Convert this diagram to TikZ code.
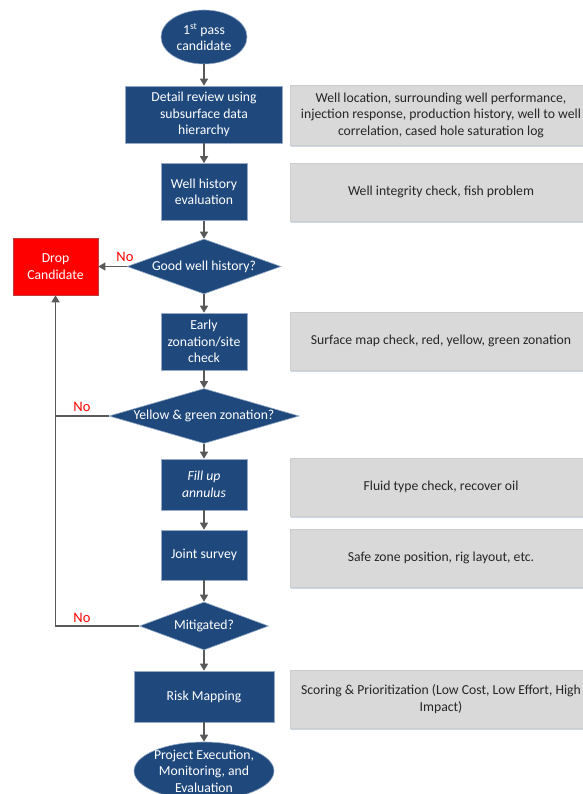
\documentclass[tikz,border=0pt]{standalone}
\usepackage{fontspec}
\setmainfont{Carlito}
\usetikzlibrary{shapes.geometric,arrows.meta,shadows}
\definecolor{bluefill}{RGB}{31,73,125}
\definecolor{blueedge}{RGB}{150,170,200}
\definecolor{grayfill}{RGB}{217,217,217}
\definecolor{grayedge}{RGB}{205,205,205}
\definecolor{arrowgray}{RGB}{89,89,89}
\definecolor{redfill}{RGB}{255,0,0}
\definecolor{rededge}{RGB}{190,60,60}
\definecolor{txtdark}{RGB}{38,38,38}
\definecolor{shadowblue}{RGB}{170,190,215}
\tikzset{
  every node/.style={font=\fontsize{13.7}{16.5}\selectfont},
  bluebox/.style={rectangle, fill=bluefill, draw=blueedge, line width=0.6pt, text=white, align=center, inner sep=0pt},
  blueell/.style={ellipse, fill=bluefill, draw=blueedge, line width=0.6pt, text=white, align=center, inner sep=0pt},
  bluedia/.style={diamond, fill=bluefill, draw=blueedge, line width=0.6pt, text=white, inner sep=0pt},
  graybox/.style={rectangle, fill=grayfill, draw=grayedge, line width=0.4pt, text=txtdark, align=center, inner sep=0pt,
    minimum width=302pt, drop shadow={shadow xshift=0.6pt, shadow yshift=-2pt, fill=shadowblue, opacity=0.6}},
  dropbox/.style={rectangle, fill=redfill, draw=rededge, line width=0.6pt, text=white, align=center, inner sep=0pt},
  nolabel/.style={text=redfill, font=\fontsize{14.5}{16}\selectfont},
  flow/.style={draw=arrowgray, line width=1.3pt, -{Triangle[width=8pt,length=7pt]}},
  plainline/.style={draw=arrowgray, line width=1.3pt},
}
\begin{document}
\begin{tikzpicture}[x=1pt,y=-1pt]
\useasboundingbox (0,0) rectangle (582,794);
\fill[white] (0,0) rectangle (582,794);

% main column
\node[blueell, minimum width=86pt, minimum height=54pt] (start) at (204,37) {1\textsuperscript{st} pass\\candidate};
\node[bluebox, minimum width=157pt, minimum height=57pt] (b1) at (204,114.5) {Detail review using\\subsurface data\\hierarchy};
\node[bluebox, minimum width=86pt, minimum height=57pt] (b2) at (204,192) {Well history\\evaluation};
\node[bluedia, minimum width=154pt, minimum height=55pt, label={center:\textcolor{white}{Good well history?}}] (d1) at (204,266.5) {};
\node[bluebox, minimum width=86pt, minimum height=57pt] (b3) at (204,341.5) {Early\\zonation/site\\check};
\node[bluedia, minimum width=190pt, minimum height=55pt, label={center:\textcolor{white}{Yellow \& green zonation?}}] (d2) at (204,416) {};
\node[bluebox, minimum width=86pt, minimum height=51pt, font=\fontsize{13.7}{16.5}\selectfont\itshape] (b4) at (204,484.5) {Fill up\\annulus};
\node[bluebox, minimum width=86pt, minimum height=50pt] (b5) at (204,555) {Joint survey};
\node[bluedia, minimum width=129pt, minimum height=48pt, label={center:\textcolor{white}{Mitigated?}}] (d3) at (204,626) {};
\node[bluebox, minimum width=140pt, minimum height=51pt] (b6) at (204,696.5) {Risk Mapping};
\node[blueell, minimum width=140pt, minimum height=58pt] (end) at (204,771) {};
\node[text=white, align=center] (endtext) at (end.center) {Project Execution,\\Monitoring, and\\Evaluation};

% drop candidate
\node[dropbox, minimum width=85pt, minimum height=57pt] (drop) at (55.5,266.5) {Drop\\Candidate};

% gray side notes
\node[graybox, minimum height=60pt] (g1) at (441,115) {Well location, surrounding well performance,\\injection response, production history, well to well\\correlation, cased hole saturation log};
\node[graybox, minimum height=58pt] (g2) at (441,192) {Well integrity check, fish problem};
\node[graybox, minimum height=58pt] (g3) at (441,341) {Surface map check, red, yellow, green zonation};
\node[graybox, minimum height=58pt] (g4) at (441,487) {Fluid type check, recover oil};
\node[graybox, minimum height=58pt] (g5) at (441,558) {Safe zone position, rig layout, etc.};
\node[graybox, minimum height=58pt] (g6) at (441,699) {Scoring \& Prioritization (Low Cost, Low Effort, High\\Impact)};

% main flow arrows
\draw[flow] (start) -- (b1);
\draw[flow] (b1) -- (b2);
\draw[flow] (b2) -- (d1);
\draw[flow] (d1) -- (b3);
\draw[flow] (b3) -- (d2);
\draw[flow] (d2) -- (b4);
\draw[flow] (b4) -- (b5);
\draw[flow] (b5) -- (d3);
\draw[flow] (d3) -- (b6);
\draw[flow] (b6) -- (end);

% "No" branches
\draw[flow] (d1.west) -- (drop.east);
\draw[flow] (d3.west) -| (drop.south);
\draw[plainline] (d2.west) -- (d2.west -| drop.south);

\node[nolabel] (no1) at (125,257) {No};
\node[nolabel] (no2) at (82,407) {No};
\node[nolabel] (no3) at (82,618) {No};
\end{tikzpicture}
\end{document}
